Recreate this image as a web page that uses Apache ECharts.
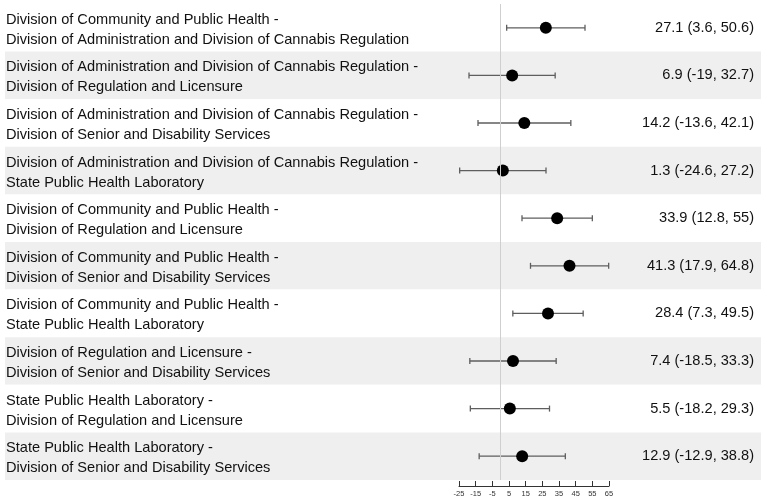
<!DOCTYPE html>
<html>
<head>
<meta charset="utf-8">
<script src="https://cdn.jsdelivr.net/npm/echarts@6/dist/echarts.min.js"></script>
<style>
  html, body { margin: 0; padding: 0; background: #fff; }
  #chart_forest { width: 767px; height: 501px; }
</style>
</head>
<body>
<div id="chart_forest"></div>
<script>
// comparisons (two-line labels)
const comparisons = [
  'Division of Community and Public Health -\nDivision of Administration and Division of Cannabis Regulation',
  'Division of Administration and Division of Cannabis Regulation -\nDivision of Regulation and Licensure',
  'Division of Administration and Division of Cannabis Regulation -\nDivision of Senior and Disability Services',
  'Division of Administration and Division of Cannabis Regulation -\nState Public Health Laboratory',
  'Division of Community and Public Health -\nDivision of Regulation and Licensure',
  'Division of Community and Public Health -\nDivision of Senior and Disability Services',
  'Division of Community and Public Health -\nState Public Health Laboratory',
  'Division of Regulation and Licensure -\nDivision of Senior and Disability Services',
  'State Public Health Laboratory -\nDivision of Regulation and Licensure',
  'State Public Health Laboratory -\nDivision of Senior and Disability Services'
];
const estimates = [27.1, 6.9, 14.2, 1.3, 33.9, 41.3, 28.4, 7.4, 5.5, 12.9];
const lower = [3.6, -19, -13.6, -24.6, 12.8, 17.9, 7.3, -18.5, -18.2, -12.9];
const upper = [50.6, 32.7, 42.1, 27.2, 55, 64.8, 49.5, 33.3, 29.3, 38.8];
const xTicks = { min: -25, max: 65, interval: 10 };

const ciLabels = estimates.map((v, i) => v + ' (' + lower[i] + ', ' + upper[i] + ')');

let myChart = echarts.init(document.getElementById('chart_forest'));

const fontFamily = '"Liberation Sans", Arial, sans-serif';

let option = {
  animation: false,
  textStyle: { fontFamily: fontFamily },
  grid: [
    // full-width grid for stripes and text
    { left: 5, right: 6, top: 4, bottom: 21 },
    // plot area
    { left: 459, width: 150, top: 4, bottom: 21 }
  ],
  xAxis: [{
    gridIndex: 0,
    type: 'value',
    show: false,
    min: 0,
    max: 1
  }, {
    gridIndex: 1,
    type: 'value',
    min: xTicks.min,
    max: xTicks.max,
    interval: xTicks.interval,
    offset: 6,
    splitLine: { show: false },
    axisLine: { show: true, onZero: false, lineStyle: { color: '#333', width: 1 } },
    axisTick: { show: true, inside: true, length: 5, lineStyle: { color: '#333' } },
    axisLabel: { fontSize: 7.5, color: '#333', margin: 4 }
  }],
  yAxis: [{
    gridIndex: 0,
    type: 'category',
    data: comparisons,
    inverse: true,
    axisLine: { show: false },
    axisTick: { show: false },
    splitLine: { show: false },
    splitArea: {
      show: true,
      areaStyle: { color: ['#ffffff', '#efefef'] }
    },
    axisLabel: {
      inside: true,
      margin: 1,
      align: 'left',
      color: '#111',
      formatter: (v) => v.split('\n').map(s => '{t|' + s + '}').join('\n'),
      rich: {
        t: { fontSize: 14.6, lineHeight: 20, padding: [4, 0, 0, 0], color: '#111' }
      }
    }
  }, {
    gridIndex: 0,
    type: 'category',
    position: 'right',
    data: ciLabels,
    inverse: true,
    axisLine: { show: false },
    axisTick: { show: false },
    splitLine: { show: false },
    axisLabel: {
      inside: true,
      margin: 7,
      align: 'right',
      fontSize: 14.6,
      color: '#111'
    }
  }, {
    gridIndex: 1,
    type: 'category',
    data: comparisons,
    inverse: true,
    show: false
  }],
  series: [{
    name: 'CI',
    type: 'custom',
    xAxisIndex: 1,
    yAxisIndex: 2,
    data: estimates.map((v, i) => [lower[i], upper[i], i]),
    renderItem: function (params, api) {
      let lo = api.coord([api.value(0), api.value(2)]);
      let hi = api.coord([api.value(1), api.value(2)]);
      let cap = 3;
      let style = { stroke: '#5e5e5e', lineWidth: 1.3 };
      return {
        type: 'group',
        children: [
          { type: 'line', shape: { x1: lo[0], y1: lo[1], x2: hi[0], y2: hi[1] }, style: style },
          { type: 'line', shape: { x1: lo[0], y1: lo[1] - cap, x2: lo[0], y2: lo[1] + cap }, style: style },
          { type: 'line', shape: { x1: hi[0], y1: hi[1] - cap, x2: hi[0], y2: hi[1] + cap }, style: style }
        ]
      };
    },
    z: 3
  }, {
    name: 'Estimate',
    type: 'scatter',
    xAxisIndex: 1,
    yAxisIndex: 2,
    symbolSize: 12,
    itemStyle: { color: '#000', opacity: 1 },
    data: estimates.map((v, i) => [v, i]),
    markLine: {
      silent: true,
      symbol: 'none',
      label: { show: false },
      lineStyle: { color: '#cfcfcf', width: 1, type: 'solid' },
      data: [{ xAxis: 0 }]
    },
    z: 4
  }]
};

myChart.setOption(option, true);

window.addEventListener('resize', () => {
  myChart.resize();
});
</script>
</body>
</html>
